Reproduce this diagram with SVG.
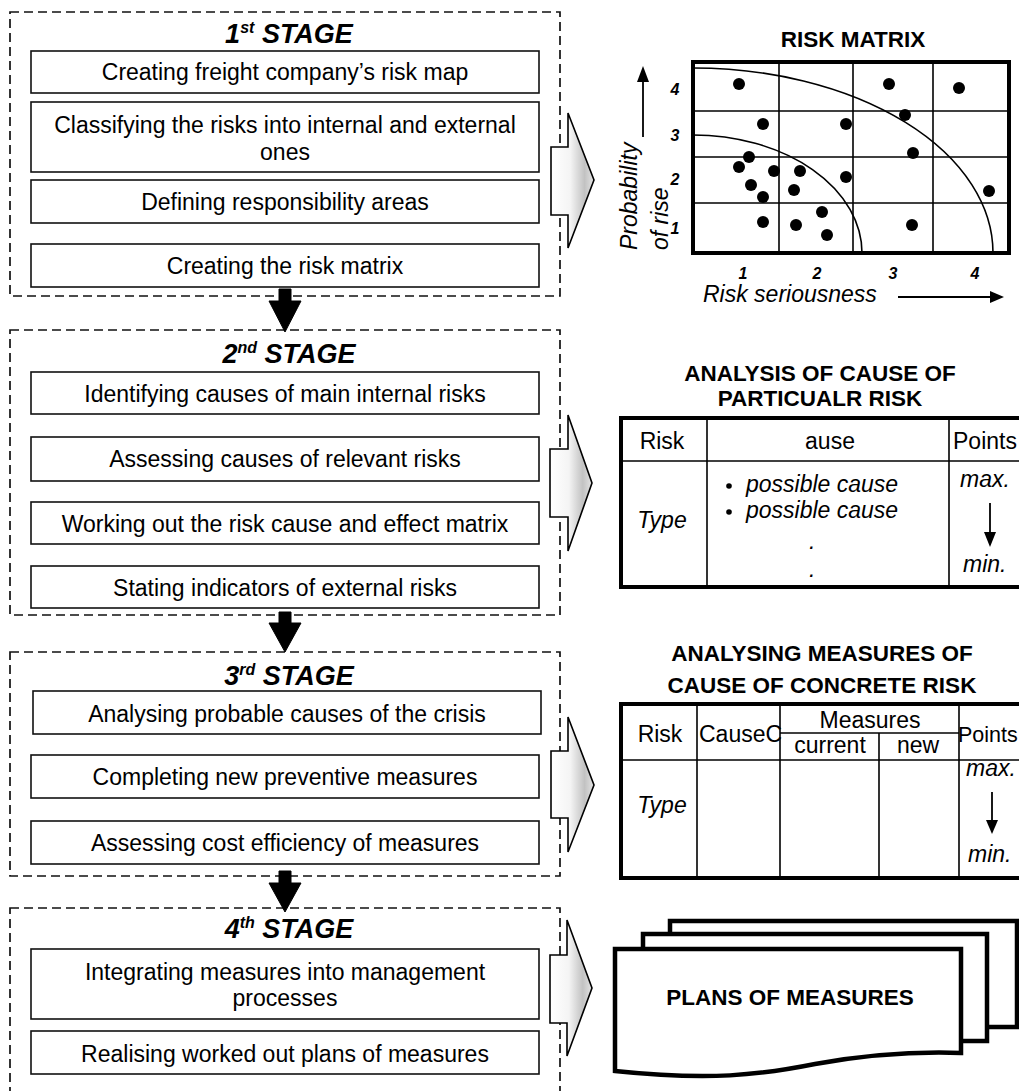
<svg xmlns="http://www.w3.org/2000/svg" width="1019" height="1091" viewBox="0 0 1019 1091">
<defs>
<linearGradient id="ag" x1="0" y1="0" x2="1" y2="0">
<stop offset="0" stop-color="#ffffff"/>
<stop offset="0.45" stop-color="#f4f4f4"/>
<stop offset="0.78" stop-color="#c2c2c2"/>
<stop offset="1" stop-color="#e4e4e4"/>
</linearGradient>
<style>
.stage{fill:none;stroke:#111;stroke-width:1.7;stroke-dasharray:9 5}
.box{fill:#fff;stroke:#111;stroke-width:1.6}
.t{font-family:"Liberation Sans",Arial,sans-serif;font-size:23px;fill:#000;text-anchor:middle}
.ttl{font-family:"Liberation Sans",Arial,sans-serif;font-size:27px;font-weight:bold;font-style:italic;fill:#000;text-anchor:middle}
.h{font-family:"Liberation Sans",Arial,sans-serif;font-size:22.5px;font-weight:bold;fill:#000;text-anchor:middle}
.it{font-family:"Liberation Sans",Arial,sans-serif;font-size:23px;font-style:italic;fill:#000}
.num{font-family:"Liberation Sans",Arial,sans-serif;font-size:16px;font-weight:bold;font-style:italic;fill:#000;text-anchor:middle}
.thick{fill:#fff;stroke:#000;stroke-width:4}
.thin{stroke:#000;stroke-width:1.6;fill:none}
.rarrow{fill:url(#ag);stroke:#000;stroke-width:1.6;stroke-linejoin:miter}
.darrow{fill:#000;stroke:#000;stroke-width:1}
.doc{fill:#fff;stroke:#000;stroke-width:4.5;stroke-linejoin:miter}
</style>
</defs>
<rect x="0" y="0" width="1019" height="1091" fill="#fff"/>

<g id="stage1">
<rect class="stage" x="10" y="12" width="550" height="284"/>
<text class="ttl" x="289" y="43">1<tspan font-size="16" dy="-10">st</tspan><tspan dy="10"> STAGE</tspan></text>
<rect class="box" x="31" y="51" width="508" height="42"/>
<text class="t" x="285" y="80">Creating freight company’s risk map</text>
<rect class="box" x="31" y="102" width="508" height="70"/>
<text class="t" x="285" y="133">Classifying the risks into internal and external</text>
<text class="t" x="285" y="160">ones</text>
<rect class="box" x="31" y="180" width="508" height="43"/>
<text class="t" x="285" y="210">Defining responsibility areas</text>
<rect class="box" x="31" y="244" width="508" height="43"/>
<text class="t" x="285" y="274">Creating the risk matrix</text>
</g>

<g id="stage2">
<rect class="stage" x="10" y="330" width="550" height="285"/>
<text class="ttl" x="289" y="363">2<tspan font-size="16" dy="-10">nd</tspan><tspan dy="10"> STAGE</tspan></text>
<rect class="box" x="31" y="372" width="508" height="42"/>
<text class="t" x="285" y="402">Identifying causes of main internal risks</text>
<rect class="box" x="31" y="437" width="508" height="44"/>
<text class="t" x="285" y="467">Assessing causes of relevant risks</text>
<rect class="box" x="31" y="502" width="508" height="42"/>
<text class="t" x="285" y="532">Working out the risk cause and effect matrix</text>
<rect class="box" x="31" y="566" width="508" height="42"/>
<text class="t" x="285" y="596">Stating indicators of external risks</text>
</g>

<g id="stage3">
<rect class="stage" x="10" y="652" width="550" height="224"/>
<text class="ttl" x="289" y="685">3<tspan font-size="16" dy="-10">rd</tspan><tspan dy="10"> STAGE</tspan></text>
<rect class="box" x="33" y="691" width="508" height="43"/>
<text class="t" x="287" y="722">Analysing probable causes of the crisis</text>
<rect class="box" x="31" y="755" width="508" height="43"/>
<text class="t" x="285" y="785">Completing new preventive measures</text>
<rect class="box" x="31" y="821" width="508" height="43"/>
<text class="t" x="285" y="851">Assessing cost efficiency of measures</text>
</g>

<g id="stage4">
<rect class="stage" x="10" y="908" width="550" height="195"/>
<text class="ttl" x="289" y="938">4<tspan font-size="16" dy="-10">th</tspan><tspan dy="10"> STAGE</tspan></text>
<rect class="box" x="31" y="949" width="508" height="70"/>
<text class="t" x="285" y="980">Integrating measures into management</text>
<text class="t" x="285" y="1006">processes</text>
<rect class="box" x="31" y="1031" width="508" height="43"/>
<text class="t" x="285" y="1062">Realising worked out plans of measures</text>
</g>

<g id="risk-matrix">
<text class="h" x="853" y="47">RISK MATRIX</text>
<rect class="thick" x="693" y="62" width="316" height="191"/>
<g class="thin">
<line x1="779" y1="62" x2="779" y2="253"/>
<line x1="853" y1="62" x2="853" y2="253"/>
<line x1="933" y1="62" x2="933" y2="253"/>
<line x1="693" y1="111" x2="1009" y2="111"/>
<line x1="693" y1="157" x2="1009" y2="157"/>
<line x1="693" y1="203" x2="1009" y2="203"/>
<path d="M693,68 A300,185 0 0 1 993,253"/>
<path d="M693,135 A169,118 0 0 1 862,253"/>
</g>
<g fill="#000">
<circle cx="739" cy="84" r="6"/>
<circle cx="889" cy="84" r="6"/>
<circle cx="959" cy="88" r="6"/>
<circle cx="763" cy="124" r="6"/>
<circle cx="846" cy="124" r="6"/>
<circle cx="905" cy="115" r="6"/>
<circle cx="749" cy="157" r="6"/>
<circle cx="913" cy="153" r="6"/>
<circle cx="739" cy="167" r="6"/>
<circle cx="774" cy="171" r="6"/>
<circle cx="800" cy="171" r="6"/>
<circle cx="846" cy="177" r="6"/>
<circle cx="751" cy="185" r="6"/>
<circle cx="794" cy="190" r="6"/>
<circle cx="763" cy="197" r="6"/>
<circle cx="989" cy="191" r="6"/>
<circle cx="822" cy="212" r="6"/>
<circle cx="763" cy="222" r="6"/>
<circle cx="796" cy="225" r="6"/>
<circle cx="827" cy="235" r="6"/>
<circle cx="912" cy="225" r="6"/>
</g>
<text class="num" x="675" y="95">4</text>
<text class="num" x="675" y="141">3</text>
<text class="num" x="675" y="185">2</text>
<text class="num" x="675" y="234">1</text>
<text class="num" x="743" y="279">1</text>
<text class="num" x="817" y="279">2</text>
<text class="num" x="893" y="279">3</text>
<text class="num" x="975" y="279">4</text>
<line x1="643" y1="137" x2="643" y2="80" stroke="#000" stroke-width="1.8"/>
<polygon points="637,82 649,82 643,66" fill="#000"/>
<text class="it" transform="translate(637,250) rotate(-90)">Probability</text>
<text class="it" transform="translate(668,250) rotate(-90)">of rise</text>
<text class="it" x="703" y="302">Risk seriousness</text>
<line x1="898" y1="297" x2="992" y2="297" stroke="#000" stroke-width="1.8"/>
<polygon points="990,291 990,303 1004,297" fill="#000"/>
</g>

<g id="cause-analysis">
<text class="h" x="820" y="381">ANALYSIS OF CAUSE OF</text>
<text class="h" x="820" y="406">PARTICUALR RISK</text>
<rect class="thick" x="621" y="418" width="420" height="169"/>
<g class="thin">
<line x1="621" y1="461" x2="1019" y2="461"/>
<line x1="707" y1="418" x2="707" y2="587"/>
<line x1="949" y1="418" x2="949" y2="587"/>
</g>
<text class="t" x="662" y="449">Risk</text>
<text class="t" x="830" y="449">ause</text>
<text class="t" x="953" y="449" style="text-anchor:start">Points</text>
<text class="it" x="662" y="528" style="text-anchor:middle">Type</text>
<circle cx="729" cy="486" r="2.8" fill="#000"/>
<circle cx="729" cy="512" r="2.8" fill="#000"/>
<text class="it" x="746" y="492">possible cause</text>
<text class="it" x="746" y="518">possible cause</text>
<text class="it" x="809" y="549">.</text>
<text class="it" x="809" y="577">.</text>
<text class="it" x="960" y="487">max.</text>
<text class="it" x="963" y="572">min.</text>
<line x1="990" y1="503" x2="990" y2="534" stroke="#000" stroke-width="1.8"/>
<polygon points="984,532 996,532 990,547" fill="#000"/>
</g>

<g id="measures-analysis">
<text class="h" x="822" y="661">ANALYSING MEASURES OF</text>
<text class="h" x="822" y="693">CAUSE OF CONCRETE RISK</text>
<rect class="thick" x="621" y="704" width="420" height="174"/>
<g class="thin">
<line x1="621" y1="760" x2="1019" y2="760"/>
<line x1="697" y1="704" x2="697" y2="878"/>
<line x1="780" y1="704" x2="780" y2="878"/>
<line x1="879" y1="733" x2="879" y2="878"/>
<line x1="959" y1="704" x2="959" y2="878"/>
<line x1="780" y1="733" x2="959" y2="733"/>
</g>
<text class="t" x="660" y="742">Risk</text>
<text class="t" x="699" y="742" style="text-anchor:start">CauseC</text>
<text class="t" x="870" y="728">Measures</text>
<text class="t" x="830" y="753">current</text>
<text class="t" x="918" y="753">new</text>
<text class="t" x="958" y="742" style="text-anchor:start;font-size:21.5px">Points</text>
<text class="it" x="662" y="813" style="text-anchor:middle">Type</text>
<text class="it" x="966" y="776">max.</text>
<text class="it" x="968" y="862">min.</text>
<line x1="992" y1="792" x2="992" y2="822" stroke="#000" stroke-width="1.8"/>
<polygon points="986,820 998,820 992,834" fill="#000"/>
</g>

<g id="plans-of-measures">
<rect class="doc" x="670" y="921" width="347" height="106"/>
<rect class="doc" x="643" y="934" width="344" height="107"/>
<path class="doc" d="M615,949 L961,949 L961,1053 C905,1051 860,1056 815,1064 C760,1075 710,1081 615,1071 Z"/>
<text class="h" x="790" y="1005">PLANS OF MEASURES</text>
</g>

<g id="connectors">
<polygon class="darrow" points="279,289 291,289 291,301 301,301 285,332 269,301 279,301"/>
<polygon class="darrow" points="279,612 291,612 291,623 301,623 285,652 269,623 279,623"/>
<polygon class="darrow" points="279,871 291,871 291,883 301,883 285,912 269,883 279,883"/>
<path class="rarrow" d="M551,147 L568,147 L568,113 L594,180 L568,248 L568,215 L551,215 Z"/>
<path class="rarrow" d="M550,449 L568,449 L568,415 L592,483 L568,551 L568,517 L550,517 Z"/>
<path class="rarrow" d="M551,751 L568,751 L568,717 L594,785 L568,852 L568,818 L551,818 Z"/>
<path class="rarrow" d="M550,955 L567,955 L567,920 L592,988 L567,1056 L567,1023 L550,1023 Z"/>
</g>
</svg>
